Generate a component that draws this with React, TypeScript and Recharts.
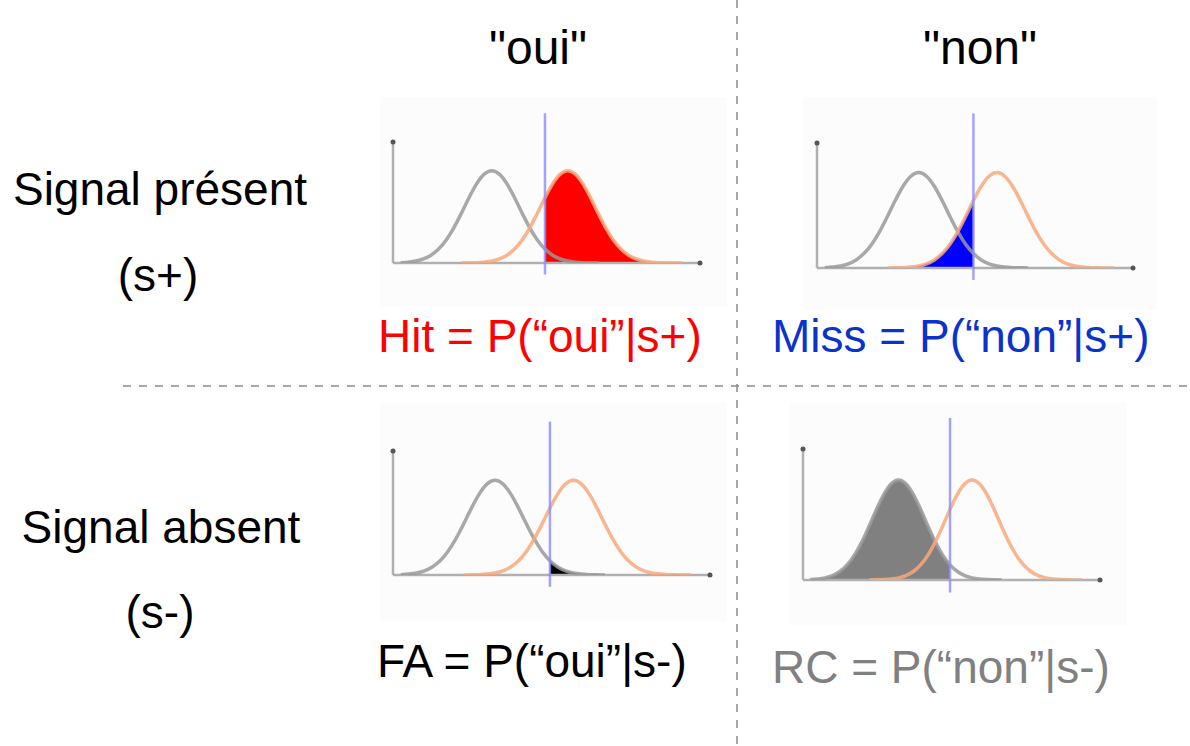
import React from "react";
import {
  ComposedChart,
  Line,
  Area,
  XAxis,
  YAxis,
  ReferenceLine,
  ReferenceDot,
} from "recharts";

// ---------- data ----------
const xValues = [
  0, 2.5, 5, 7.5, 10, 12.5, 15, 17.5, 20, 22.5, 25, 27.5, 30, 32.5, 35, 37.5, 40,
  42.5, 45, 47.5, 50, 52.5, 55, 57.5, 60, 62.5, 65, 67.5, 70, 72.5, 75, 77.5, 80,
  82.5, 85, 87.5, 90, 92.5, 95, 97.5, 100,
];
// noise distribution (grey curve)
const noiseDensity: (number | null)[] = [
  null, 0.0039, 0.0094, 0.0211, 0.0439, 0.0847, 0.151, 0.249, 0.381, 0.539, 0.707,
  0.857, 0.962, 1, 0.962, 0.857, 0.707, 0.539, 0.381, 0.249, 0.151, 0.0847, 0.0439,
  0.0211, 0.0094, 0.0039, 0.0015, 0.0005, null, null, null, null, null, null, null,
  null, null, null, null, null, null,
];
// signal + noise distribution (orange curve)
const signalDensity: (number | null)[] = [
  null, null, null, null, null, null, null, null, null, 0.0005, 0.0015, 0.0039,
  0.0094, 0.0211, 0.0439, 0.0847, 0.151, 0.249, 0.381, 0.539, 0.707, 0.857, 0.962,
  1, 0.962, 0.857, 0.707, 0.539, 0.381, 0.249, 0.151, 0.0847, 0.0439, 0.0211,
  0.0094, 0.0039, 0.0015, 0.0005, 0.0002, null, null,
];
const criterion = 50;
const xDomain = [0, 101];
const yDomain = [0, 1.31];
const criterionSpan = [-0.125, 1.62];

const columnLabels = ['"oui"', '"non"'];
const rowLabels = ["Signal présent", "Signal absent"];
const rowCodes = ["(s+)", "(s-)"];
const cellLabels = [
  "Hit = P(“oui”|s+)",
  "Miss = P(“non”|s+)",
  "FA = P(“oui”|s-)",
  "RC = P(“non”|s-)",
];

const rows = xValues.map((x, i) => ({
  x,
  noise: noiseDensity[i],
  signal: signalDensity[i],
  noiseLow: x <= criterion ? noiseDensity[i] : null,
  noiseHigh: x >= criterion ? noiseDensity[i] : null,
  signalLow: x <= criterion ? signalDensity[i] : null,
  signalHigh: x >= criterion ? signalDensity[i] : null,
}));

// ---------- layout ----------
const FONT = "'Liberation Sans', Arial, Helvetica, sans-serif";

type PanelCfg = {
  left: number;
  top: number;
  width: number;
  height: number;
  margin: { top: number; right: number; bottom: number; left: number };
  fillKey: string;
  fillColor: string;
};

const panels: PanelCfg[] = [
  {
    left: 380, top: 97, width: 347, height: 210,
    margin: { top: 45, right: 27, bottom: 44, left: 13 },
    fillKey: "signalHigh", fillColor: "#ff0000",
  },
  {
    left: 803, top: 97, width: 354, height: 213,
    margin: { top: 46, right: 24, bottom: 42, left: 14 },
    fillKey: "signalLow", fillColor: "#0000ff",
  },
  {
    left: 380, top: 402, width: 347, height: 220,
    margin: { top: 49, right: 17, bottom: 47, left: 13 },
    fillKey: "noiseHigh", fillColor: "#000000",
  },
  {
    left: 790, top: 402, width: 337, height: 223,
    margin: { top: 47, right: 27, bottom: 45, left: 13 },
    fillKey: "noiseLow", fillColor: "#808080",
  },
];

function Panel({ cfg }: { cfg: PanelCfg }) {
  return (
    <div
      style={{
        position: "absolute",
        left: cfg.left,
        top: cfg.top,
        width: cfg.width,
        height: cfg.height,
        background: "#fcfcfc",
      }}
    >
      <ComposedChart width={cfg.width} height={cfg.height} data={rows} margin={cfg.margin}>
        <XAxis type="number" dataKey="x" domain={xDomain} hide allowDataOverflow />
        <YAxis type="number" domain={yDomain} hide allowDataOverflow />
        <ReferenceLine
          segment={[{ x: xDomain[0], y: 0 }, { x: xDomain[1], y: 0 }]}
          stroke="#b0b0b0"
          strokeWidth={2.5}
          ifOverflow="visible"
        />
        <ReferenceLine
          segment={[{ x: xDomain[0], y: 0 }, { x: xDomain[0], y: yDomain[1] }]}
          stroke="#b0b0b0"
          strokeWidth={2.5}
          ifOverflow="visible"
        />
        <ReferenceDot x={xDomain[1]} y={0} r={2.5} fill="#555" stroke="none" ifOverflow="visible" />
        <ReferenceDot x={xDomain[0]} y={yDomain[1]} r={2.5} fill="#555" stroke="none" ifOverflow="visible" />
        <Area
          type="monotone"
          dataKey={cfg.fillKey}
          stroke="none"
          fill={cfg.fillColor}
          fillOpacity={1}
          isAnimationActive={false}
          dot={false}
          activeDot={false}
        />
        <Line
          type="monotone"
          dataKey="noise"
          stroke="#999999"
          strokeWidth={3.5}
          strokeOpacity={0.85}
          dot={false}
          activeDot={false}
          isAnimationActive={false}
        />
        <Line
          type="monotone"
          dataKey="signal"
          stroke="#f6a97c"
          strokeWidth={3.5}
          strokeOpacity={0.85}
          dot={false}
          activeDot={false}
          isAnimationActive={false}
        />
        <ReferenceLine
          segment={[{ x: criterion, y: criterionSpan[0] }, { x: criterion, y: criterionSpan[1] }]}
          stroke="#8c8cff"
          strokeWidth={2.5}
          strokeOpacity={0.8}
          ifOverflow="visible"
        />
      </ComposedChart>
    </div>
  );
}

export default function App() {
  const textColors = ["#ff0000", "#0a33cc", "#000000", "#808080"];
  const cellPos = [
    { x: 378, y: 352 },
    { x: 772, y: 352 },
    { x: 377, y: 677 },
    { x: 772, y: 683 },
  ];
  return (
    <div
      style={{
        position: "absolute",
        left: 0,
        top: 0,
        width: 1190,
        height: 746,
        background: "#ffffff",
        overflow: "hidden",
        fontFamily: FONT,
      }}
    >
      {panels.map((p, i) => (
        <Panel key={i} cfg={p} />
      ))}
      <svg
        width={1190}
        height={746}
        style={{ position: "absolute", left: 0, top: 0, pointerEvents: "none" }}
      >
        <line x1={737} y1={0} x2={737} y2={746} stroke="#8a8a8a" strokeWidth={1.5} strokeDasharray="8 8" />
        <line x1={123} y1={386} x2={1190} y2={386} stroke="#8a8a8a" strokeWidth={1.5} strokeDasharray="8 8" />
        <text x={538} y={64} textAnchor="middle" fontSize={48} fontFamily={FONT} fill="#000">
          {columnLabels[0]}
        </text>
        <text x={980} y={64} textAnchor="middle" fontSize={48} fontFamily={FONT} fill="#000">
          {columnLabels[1]}
        </text>
        <text x={160} y={205} textAnchor="middle" fontSize={46} fontFamily={FONT} fill="#000">
          {rowLabels[0]}
        </text>
        <text x={158} y={291} textAnchor="middle" fontSize={46} fontFamily={FONT} fill="#000">
          {rowCodes[0]}
        </text>
        <text x={161} y={543} textAnchor="middle" fontSize={46} fontFamily={FONT} fill="#000">
          {rowLabels[1]}
        </text>
        <text x={160} y={628} textAnchor="middle" fontSize={46} fontFamily={FONT} fill="#000">
          {rowCodes[1]}
        </text>
        {cellLabels.map((t, i) => (
          <text
            key={i}
            x={cellPos[i].x}
            y={cellPos[i].y}
            fontSize={46}
            fontFamily={FONT}
            fill={textColors[i]}
          >
            {t}
          </text>
        ))}
      </svg>
    </div>
  );
}
